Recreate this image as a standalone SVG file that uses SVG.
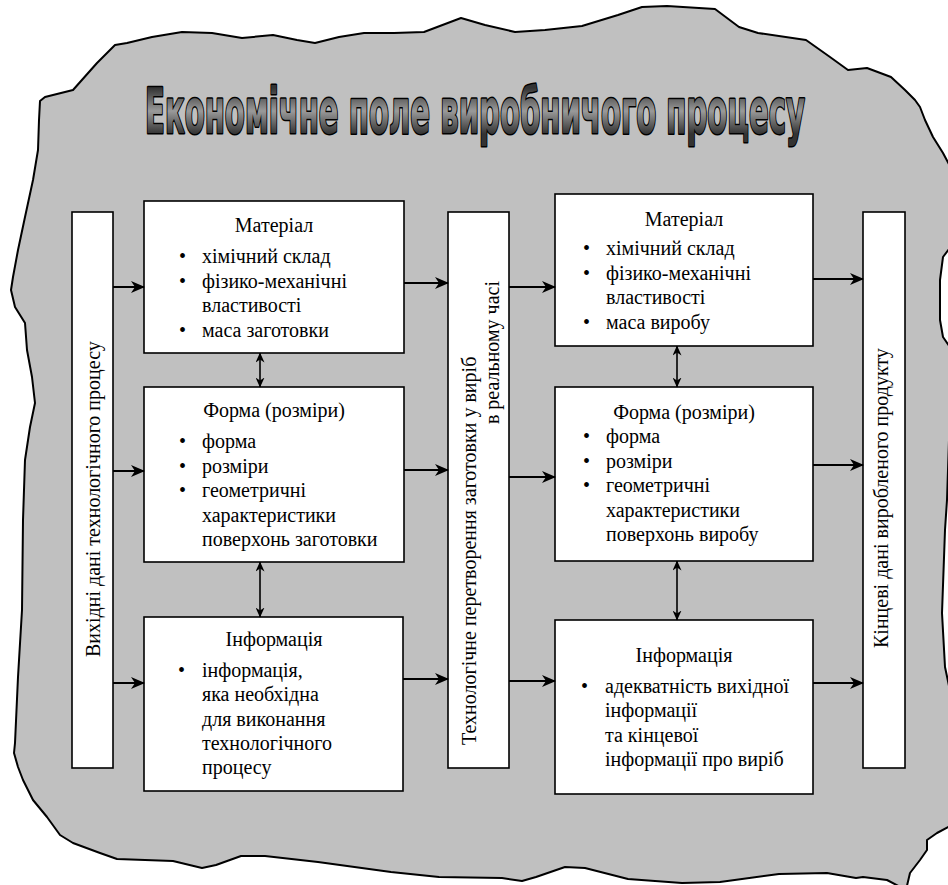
<svg xmlns="http://www.w3.org/2000/svg" width="948" height="885" viewBox="0 0 948 885">
<defs>
<style>
.box{fill:#fff;stroke:#000;stroke-width:1.6}
.t{font-size:20px;fill:#000}
.c{text-anchor:middle}
.conn line{stroke:#000;stroke-width:2}
.dbl line{stroke:#000;stroke-width:1.6}
</style>
<linearGradient id="tg" x1="0" y1="88" x2="0" y2="134" gradientUnits="userSpaceOnUse">
<stop offset="0" stop-color="#333333"/>
<stop offset="0.5" stop-color="#9a9a9a"/>
<stop offset="1" stop-color="#333333"/>
</linearGradient>
<marker id="ah" viewBox="0 0 14 12" refX="13" refY="6" markerWidth="14" markerHeight="12" markerUnits="userSpaceOnUse" orient="auto-start-reverse">
<path d="M0,0 L14,6 L0,12 L4,6 z" fill="#000"/>
</marker>
<marker id="ah2" viewBox="0 0 10 9" refX="9.5" refY="4.5" markerWidth="10" markerHeight="9" markerUnits="userSpaceOnUse" orient="auto-start-reverse">
<path d="M0,0 L10,4.5 L0,9 L3,4.5 z" fill="#000"/>
</marker>
</defs>

<g id="background">
<path fill="#c0c0c0" stroke="#000" stroke-width="2" stroke-linejoin="round" d="M73,90 L97,63 L115,45 L127,43 L152,37 L182,32 L212,33 L242,38 L273,35 L297,40 L315,43 L339,37 L364,33 L394,33 L424,32 L461,18 L485,25 L515,32 L545,30 L582,26 L618,15 L642,7 L667,6 L715,9 L739,27 L758,33 L806,40 L830,57 L848,70 L867,68 L891,77 L905,90 L915,100 L920,107 L925,120 L933,137 L943,153 L952,170 L952,245 L943,257 L940,280 L940,320 L943,337 L952,350 L947,500 L945,530 L942,613 L945,667 L952,700 L952,825 L937,833 L927,840 L927,850 L920,860 L910,873 L906,890 L887,880 L863,877 L856,878 L827,873 L779,874 L720,882 L682,883 L628,879 L585,868 L565,867 L536,877 L522,881 L502,878 L439,877 L391,872 L318,862 L265,856 L241,856 L216,865 L202,868 L173,861 L117,859 L100,853 L73,843 L60,835 L47,817 L33,800 L23,780 L18,767 L14,753 L15,743 L18,677 L22,610 L23,520 L25,460 L30,427 L35,403 L32,377 L27,350 L25,323 L15,307 L11,290 L13,277 L18,250 L25,217 L33,180 L38,150 L39,120 L40,101 L45,97 Z"/>
</g>

<g id="title">
<text x="145" y="133" textLength="660" lengthAdjust="spacingAndGlyphs" font-family="DejaVu Sans Condensed, DejaVu Sans, sans-serif" font-weight="bold" font-size="62" fill="url(#tg)" stroke="#000" stroke-width="3" paint-order="stroke" stroke-linejoin="round">Економічне поле виробничого процесу</text>
</g>

<g font-family="Liberation Serif, Times New Roman, serif" font-size="20" fill="#000">
<g id="input">
<rect class="box" x="72" y="212" width="41" height="556"/>
<text class="t" transform="translate(100,657) rotate(-90)">Вихідні дані технологічного процесу</text>
</g>

<g id="material-in">
<rect class="box" x="144" y="201" width="260" height="152"/>
<text class="t c" x="274" y="232">Матеріал</text>
<text class="t" x="179" y="263">•</text><text class="t" x="202" y="263">хімічний склад</text>
<text class="t" x="179" y="287.5">•</text><text class="t" x="202" y="287.5">фізико-механічні</text>
<text class="t" x="202" y="312">властивості</text>
<text class="t" x="179" y="336.5">•</text><text class="t" x="202" y="336.5">маса заготовки</text>
</g>

<g id="form-in">
<rect class="box" x="144" y="387" width="260" height="175"/>
<text class="t c" x="274" y="417">Форма (розміри)</text>
<text class="t" x="179" y="448">•</text><text class="t" x="202" y="448">форма</text>
<text class="t" x="179" y="472.5">•</text><text class="t" x="202" y="472.5">розміри</text>
<text class="t" x="179" y="497">•</text><text class="t" x="202" y="497">геометричні</text>
<text class="t" x="202" y="521.5">характеристики</text>
<text class="t" x="202" y="546">поверхонь заготовки</text>
</g>

<g id="info-in">
<rect class="box" x="144" y="617" width="259" height="174"/>
<text class="t c" x="274" y="646">Інформація</text>
<text class="t" x="178" y="677">•</text><text class="t" x="202" y="677">інформація,</text>
<text class="t" x="202" y="701">яка необхідна</text>
<text class="t" x="202" y="725.5">для виконання</text>
<text class="t" x="202" y="750">технологічного</text>
<text class="t" x="202" y="774">процесу</text>
</g>

<g id="transform">
<rect class="box" x="448" y="212" width="61" height="556"/>
<text class="t" transform="translate(476,745) rotate(-90)" font-size="20.4">Технологічне перетворення заготовки у виріб</text>
<text class="t" transform="translate(499,281) rotate(-90)" text-anchor="end" font-size="20.4">в реальному часі</text>
</g>

<g id="material-out">
<rect class="box" x="555" y="194" width="258" height="152"/>
<text class="t c" x="684" y="226">Матеріал</text>
<text class="t" x="583" y="255">•</text><text class="t" x="606" y="255">хімічний склад</text>
<text class="t" x="583" y="279.5">•</text><text class="t" x="606" y="279.5">фізико-механічні</text>
<text class="t" x="606" y="304">властивості</text>
<text class="t" x="583" y="328.5">•</text><text class="t" x="606" y="328.5">маса виробу</text>
</g>

<g id="form-out">
<rect class="box" x="555" y="387" width="258" height="174"/>
<text class="t c" x="684" y="419">Форма (розміри)</text>
<text class="t" x="583" y="443">•</text><text class="t" x="606" y="443">форма</text>
<text class="t" x="583" y="467.5">•</text><text class="t" x="606" y="467.5">розміри</text>
<text class="t" x="583" y="492">•</text><text class="t" x="606" y="492">геометричні</text>
<text class="t" x="606" y="516.5">характеристики</text>
<text class="t" x="606" y="541">поверхонь виробу</text>
</g>

<g id="info-out">
<rect class="box" x="555" y="620" width="258" height="174"/>
<text class="t c" x="684" y="662">Інформація</text>
<text class="t" x="581" y="693">•</text><text class="t" x="605" y="693">адекватність вихідної</text>
<text class="t" x="605" y="717">інформації</text>
<text class="t" x="605" y="741.5">та кінцевої</text>
<text class="t" x="605" y="766">інформації про виріб</text>
</g>

<g id="output">
<rect class="box" x="863" y="212" width="42" height="556"/>
<text class="t" transform="translate(888,648) rotate(-90)">Кінцеві дані виробленого продукту</text>
</g>
</g>

<g id="connectors">
<g class="conn">
<line x1="113" y1="287" x2="144" y2="287" marker-end="url(#ah)"/>
<line x1="404" y1="283" x2="448" y2="283" marker-end="url(#ah)"/>
<line x1="509" y1="287" x2="555" y2="287" marker-end="url(#ah)"/>
<line x1="813" y1="279" x2="863" y2="279" marker-end="url(#ah)"/>
<line x1="113" y1="471" x2="144" y2="471" marker-end="url(#ah)"/>
<line x1="404" y1="470" x2="448" y2="470" marker-end="url(#ah)"/>
<line x1="509" y1="477" x2="555" y2="477" marker-end="url(#ah)"/>
<line x1="813" y1="465" x2="863" y2="465" marker-end="url(#ah)"/>
<line x1="113" y1="683" x2="144" y2="683" marker-end="url(#ah)"/>
<line x1="403" y1="679" x2="448" y2="679" marker-end="url(#ah)"/>
<line x1="509" y1="681" x2="555" y2="681" marker-end="url(#ah)"/>
<line x1="813" y1="683" x2="863" y2="683" marker-end="url(#ah)"/>
</g>
<g class="dbl">
<line x1="260" y1="353" x2="260" y2="387" marker-start="url(#ah2)" marker-end="url(#ah2)"/>
<line x1="260" y1="562" x2="260" y2="617" marker-start="url(#ah2)" marker-end="url(#ah2)"/>
<line x1="677" y1="346" x2="677" y2="387" marker-start="url(#ah2)" marker-end="url(#ah2)"/>
<line x1="677" y1="561" x2="677" y2="620" marker-start="url(#ah2)" marker-end="url(#ah2)"/>
</g>
</g>
</svg>
